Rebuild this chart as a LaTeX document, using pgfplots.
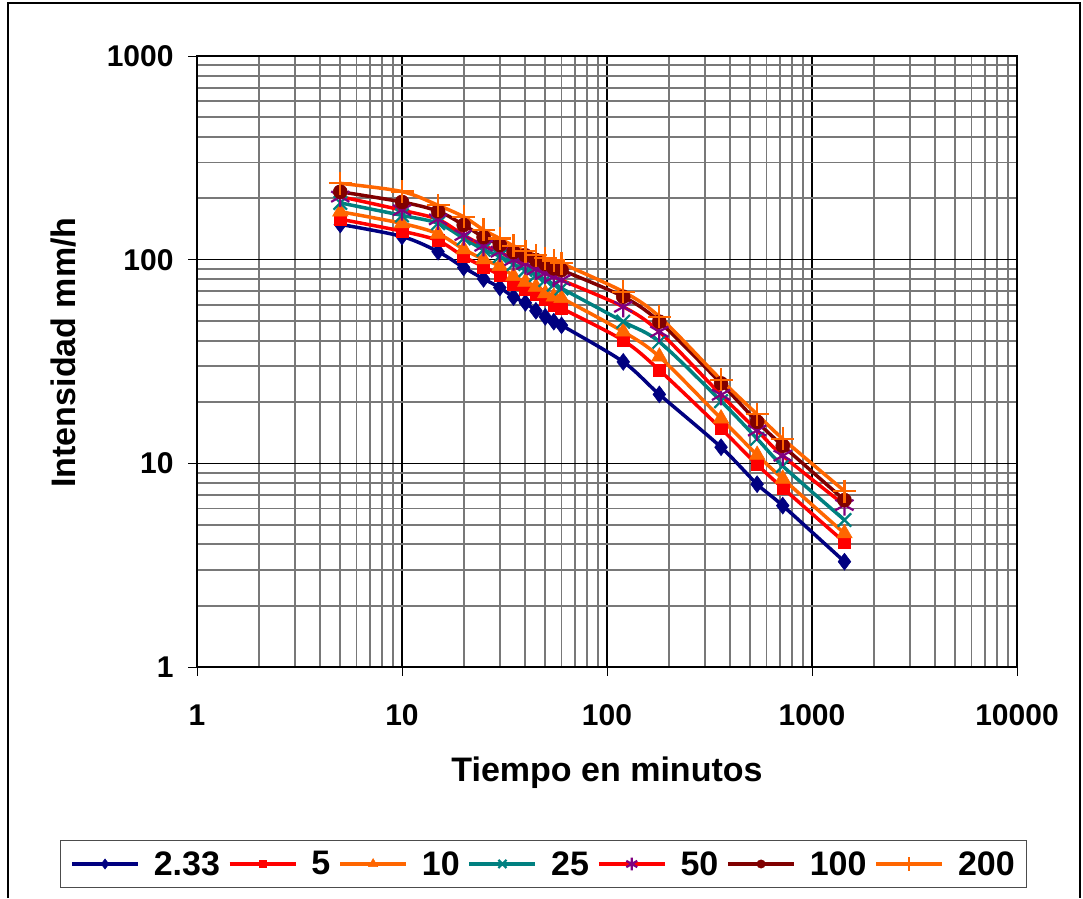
\documentclass[border=0pt]{standalone}
\usepackage{pgfplots}
\pgfplotsset{compat=1.18}
\usepackage{fontspec}
\setmainfont{Liberation Sans}
\definecolor{cnavy}{RGB}{0,0,128}
\definecolor{cred}{RGB}{255,0,0}
\definecolor{corange}{RGB}{255,102,0}
\definecolor{cteal}{RGB}{0,128,128}
\definecolor{cpurple}{RGB}{128,0,128}
\definecolor{cdarkred}{RGB}{128,0,0}
\definecolor{cgrid}{RGB}{120,120,120}
\begin{document}
\begin{tikzpicture}
\path[use as bounding box] (0pt,0pt) rectangle (1083pt,898pt);
\draw[line width=1.2pt,black] (8pt,0pt) -- (8pt,895pt) -- (1080pt,895pt) -- (1080pt,0pt);
\begin{axis}[
  at={(197pt,231pt)}, anchor=south west,
  scale only axis, width=820pt, height=611pt,
  xmode=log, ymode=log,
  xmin=1, xmax=10000, ymin=1, ymax=1000,
  xtick={1,10,100,1000,10000}, xticklabels={1,10,100,1000,10000},
  ytick={1,10,100,1000}, yticklabels={1,10,100,1000},
  minor xtick={2,3,4,5,6,7,8,9,20,30,40,50,60,70,80,90,200,300,400,500,600,700,800,900,2000,3000,4000,5000,6000,7000,8000,9000},
  minor ytick={2,3,4,5,6,7,8,9,20,30,40,50,60,70,80,90,200,300,400,500,600,700,800,900},
  grid=both,
  major grid style={black, line width=1.2pt},
  minor grid style={cgrid, line width=1.9pt},
  axis line style={black, line width=1.8pt},
  tick pos=left,
  tick align=outside, major tick length=9pt, minor tick length=0pt,
  tick style={black, line width=1pt},
  ticklabel style={font=\fontsize{30}{30}\selectfont\bfseries},
  xticklabel style={yshift=-25pt},
  yticklabel style={xshift=-11pt},
  xlabel={Tiempo en minutos}, ylabel={Intensidad mm/h},
  label style={font=\fontsize{34}{34}\selectfont\bfseries},
  xlabel style={at={(axis description cs:0.5,0)}, anchor=center, yshift=-106pt},
  ylabel style={at={(axis description cs:0,0.5)}, anchor=center, yshift=133pt, xshift=9pt},
  legend columns=7,
  legend style={at={(0.4226,-0.3224)}, anchor=center, draw=black!70, line width=1pt,
    font=\fontsize{34}{34}\selectfont\bfseries, inner xsep=10pt, inner ysep=9pt,
    /tikz/every even column/.append style={column sep=6pt},
    /tikz/every odd column/.append style={column sep=12pt}},
  legend image code/.code={\draw[mark repeat=2,mark phase=2,#1,every mark/.append style={scale=0.6}] plot coordinates {(0pt,0pt) (33pt,0pt) (66pt,0pt)};},
  every axis plot/.append style={line width=3.5pt},
]
\addplot[cnavy, smooth, tension=0.5, mark=diamond*, mark size=8.5pt, mark options={fill=cnavy, line width=0.5pt}] coordinates {
(5,149) (10,130) (15,109.5) (20,91.5) (25,80.5) (30,73) (35,65.5) (40,61.4) (45,56.1) (50,52.4) (55,49.6) (60,47.6) (120,31.5) (180,21.8) (360,12.0) (540,7.9) (720,6.2) (1440,3.29)};
\addlegendentry{2.33}
\addplot[cred, smooth, tension=0.5, mark=square*, mark size=6pt, mark options={fill=cred, line width=0.5pt}] coordinates {
(5,158) (10,138) (15,124) (20,103.5) (25,92.3) (30,84) (35,75.9) (40,71.7) (45,67.6) (50,63.8) (55,59.8) (60,57.7) (120,40.1) (180,28.7) (360,14.8) (540,9.85) (720,7.57) (1440,4.1)};
\addlegendentry{5}
\addplot[corange, smooth, tension=0.5, mark=triangle*, mark size=9pt, mark options={fill=corange, line width=0.5pt}] coordinates {
(5,172) (10,150.7) (15,134) (20,112.5) (25,100.3) (30,93) (35,83) (40,77.9) (45,73.6) (50,68.3) (55,65.8) (60,64.7) (120,44.3) (180,33.4) (360,16.6) (540,11.0) (720,8.4) (1440,4.53)};
\addlegendentry{10}
\addplot[cteal, smooth, tension=0.5, mark=x, mark size=9.5pt, mark options={line width=2.2pt}] coordinates {
(5,190) (10,165) (15,151) (20,127.2) (25,112) (30,104) (35,95.2) (40,88.9) (45,83.9) (50,79.4) (55,75.4) (60,72.3) (120,49.6) (180,39.5) (360,20.2) (540,13.2) (720,9.7) (1440,5.27)};
\addlegendentry{25}
\addplot[cred, smooth, tension=0.5, mark=asterisk, mark size=10.5pt, mark options={draw=cpurple, line width=2.2pt}] coordinates {
(5,204) (10,175) (15,157.7) (20,132) (25,117) (30,109.4) (35,99.6) (40,95.2) (45,89.6) (50,85.6) (55,82.4) (60,79.4) (120,58.7) (180,44.3) (360,21.7) (540,14.5) (720,10.9) (1440,6.24)};
\addlegendentry{50}
\addplot[cdarkred, smooth, tension=0.5, mark=*, mark size=7pt, mark options={fill=cdarkred, line width=0.5pt}] coordinates {
(5,215.5) (10,192) (15,173) (20,148) (25,129) (30,118) (35,109) (40,105) (45,99.6) (50,95.2) (55,90.7) (60,88.9) (120,65.8) (180,49.6) (360,24.7) (540,16.0) (720,12.2) (1440,6.6)};
\addlegendentry{100}
\addplot[corange, smooth, tension=0.5, mark=+, mark size=11.5pt, mark options={line width=2.2pt}] coordinates {
(5,237) (10,216) (15,185) (20,162.4) (25,140) (30,127) (35,117) (40,110) (45,105) (50,101.5) (55,99) (60,96) (120,69.6) (180,52.5) (360,25.7) (540,17.4) (720,13.2) (1440,7.31)};
\addlegendentry{200}
\end{axis}
\end{tikzpicture}
\end{document}
